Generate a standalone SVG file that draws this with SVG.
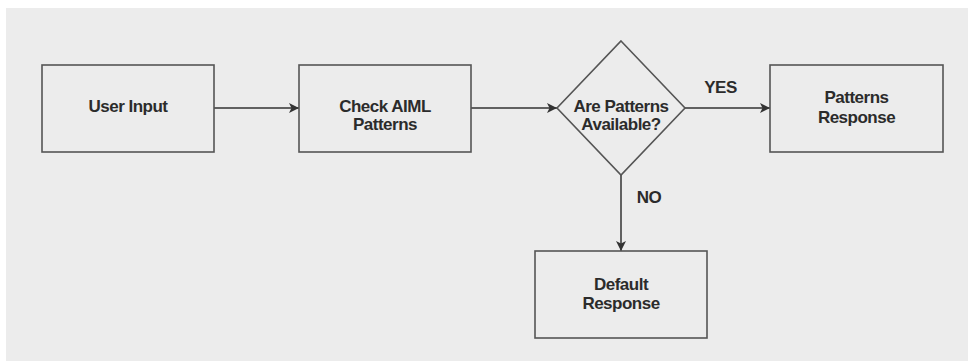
<svg xmlns="http://www.w3.org/2000/svg" width="968" height="361" viewBox="0 0 968 361">
<defs>
<style>
.node{fill:none;stroke:#555;stroke-width:1.6}
.t{font-family:"Liberation Sans",Arial,sans-serif;font-size:17px;font-weight:bold;letter-spacing:-0.5px;fill:#2b2b2b;text-anchor:middle}
.c{fill:none;stroke:#333;stroke-width:1.5}
</style>
<marker id="ah" viewBox="0 0 10 10" refX="10" refY="5" markerWidth="10" markerHeight="10" markerUnits="userSpaceOnUse" orient="auto">
<path d="M0,0 L10,5 L0,10 L2.5,5 Z" fill="#333"/>
</marker>
</defs>
<rect x="6" y="8" width="962" height="353" fill="#ececec"/>
<g id="connectors">
<line class="c" x1="214" y1="108" x2="299" y2="108" marker-end="url(#ah)"/>
<line class="c" x1="471" y1="108" x2="557" y2="108" marker-end="url(#ah)"/>
<line class="c" x1="685" y1="108" x2="770" y2="108" marker-end="url(#ah)"/>
<line class="c" x1="621" y1="175" x2="621" y2="251" marker-end="url(#ah)"/>
<text class="t" x="720.5" y="92.5">YES</text>
<text class="t" x="649" y="202.5">NO</text>
</g>
<g id="user-input">
<rect class="node" x="42" y="65" width="172" height="87"/>
<text class="t" x="128" y="111.7">User Input</text>
</g>
<g id="check-aiml">
<rect class="node" x="299" y="65" width="172" height="87"/>
<text class="t" x="385" y="111.7">Check AIML</text>
<text class="t" x="385" y="130">Patterns</text>
</g>
<g id="decision">
<polygon class="node" points="621,41 685,108 621,175 557,108"/>
<text class="t" x="621" y="111.7">Are Patterns</text>
<text class="t" x="621" y="130">Available?</text>
</g>
<g id="patterns-response">
<rect class="node" x="770" y="65" width="173" height="87"/>
<text class="t" x="856.5" y="103.3">Patterns</text>
<text class="t" x="856.5" y="122.5">Response</text>
</g>
<g id="default-response">
<rect class="node" x="535" y="251" width="172" height="87"/>
<text class="t" x="621" y="290">Default</text>
<text class="t" x="621" y="308.5">Response</text>
</g>
</svg>
